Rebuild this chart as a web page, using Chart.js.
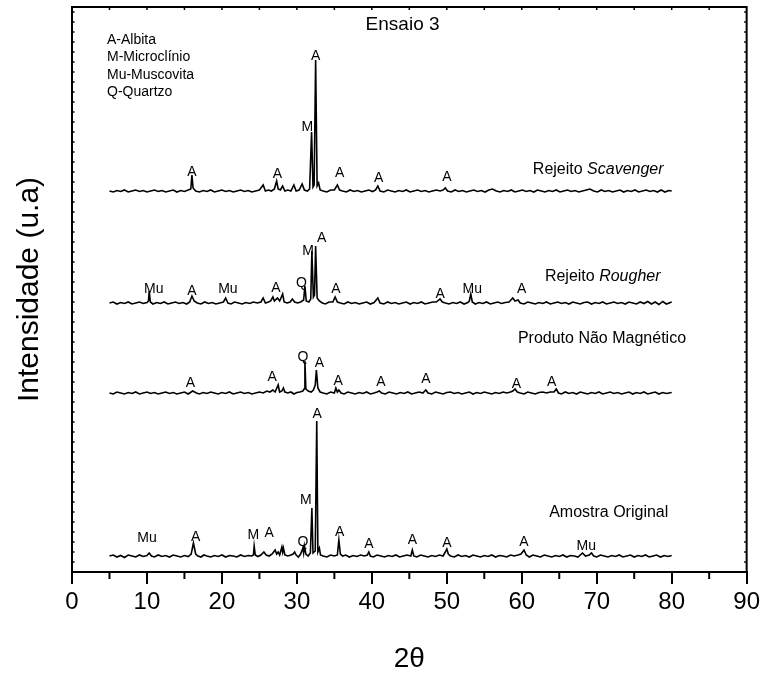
<!DOCTYPE html>
<html><head><meta charset="utf-8">
<script src="https://cdn.jsdelivr.net/npm/chart.js@4.4.0/dist/chart.umd.min.js"></script>
<style>html,body{margin:0;padding:0;background:#fff}</style>
</head><body>
<canvas id="c" width="764" height="673" style="width:764px;height:673px;display:block"></canvas>
<script>
// ---- axis ----
const xMin = 0, xMax = 90, xStep = 10;
const yMin = 0, yMax = 565;

// ---- series names & vertical offsets (stacked patterns) ----
const seriesNames = ['Amostra Original', 'Produto Não Magnético', 'Rejeito Rougher', 'Rejeito Scavenger'];
const offsets = [16, 179, 269, 381];

// ---- intensities [2θ, counts above baseline] ----
const amostra = [[5,0],[5.5,1],[6,-1],[6.5,0.5],[7,-1.5],[7.5,1],[8,0],[8.5,-1],[9,1],[9.5,-0.5],[10,0.5],[10.3,3],[10.6,0],[11,-1],[11.5,1],[12,-0.5],[12.5,0.5],[13,-1],[13.5,1],[14,0],[14.5,-1],[15,0.5],[15.5,-0.5],[15.9,2],[16.2,13],[16.5,2],[16.8,0],[17.2,-1],[17.6,1],[18,0],[18.5,-1],[19,0.5],[19.5,-0.5],[20,1],[20.5,-1],[21,0.5],[21.5,0],[22,-1],[22.5,1],[23,-0.5],[23.5,0.5],[24,0],[24.2,1],[24.3,10],[24.45,1],[24.8,-0.5],[25.2,1],[25.6,4],[25.9,1],[26.3,0],[26.7,2],[27.1,6],[27.3,2],[27.5,4],[27.7,1],[28.0,9],[28.1,4],[28.2,8],[28.4,1],[28.8,0],[29.2,1],[29.5,2],[29.7,4],[29.9,1],[30.2,-1],[30.5,2],[30.8,8],[30.9,3],[31.0,10],[31.2,2],[31.5,0],[31.8,3],[32.0,48],[32.15,3],[32.45,5],[32.65,135],[32.8,4],[33.0,8],[33.15,1],[33.5,0],[34,-1],[34.5,1],[35,0],[35.4,1],[35.6,16],[35.8,2],[36.1,0],[36.5,1],[37,-1],[37.5,0.5],[38,-0.5],[38.5,1],[39,0],[39.4,1],[39.6,4],[39.8,0],[40.2,-1],[40.7,1],[41.2,0],[41.7,-1],[42.2,0.5],[42.7,-0.5],[43.2,1],[43.7,-1],[44.2,0],[44.7,1],[45.2,0],[45.4,6],[45.6,0],[46,-1],[46.5,1],[47,0],[47.5,-1],[48,0.5],[48.5,-0.5],[49,1],[49.5,0],[49.8,4],[50.0,7],[50.2,2],[50.5,0],[51,-1],[51.5,1],[52,-0.5],[52.5,0.5],[53,-1],[53.5,1],[54,0],[54.5,-1],[55,0.5],[55.5,-0.5],[56,1],[56.5,-1],[57,0.5],[57.5,0],[58,-1],[58.5,1],[59,0],[59.5,1],[59.9,2],[60.3,6],[60.6,1],[61,-1],[61.5,1],[62,0],[62.5,-1],[63,1],[63.5,0],[64,-1],[64.5,0.5],[65,-0.5],[65.5,1],[66,-1],[66.5,0.5],[67,0],[67.5,-1],[68.1,3],[68.5,0],[69,1],[69.3,3],[69.6,0],[70,-1],[70.5,1],[71,0],[71.5,-1],[72,0.5],[72.5,-0.5],[73,1],[73.5,-1],[74,0],[74.5,1],[75,-1],[75.5,0.5],[76,-0.5],[76.5,1],[77,-1],[77.5,0],[78,1],[78.5,-1],[79,0.5],[79.5,-0.5],[80,0.5]];

const produto = [[5,0],[5.5,-1],[6,1],[6.5,0],[7,-1],[7.5,0.5],[8,-0.5],[8.5,1],[9,-1],[9.5,0],[10,1],[10.5,-0.5],[11,0.5],[11.5,-1],[12,0],[12.5,1],[13,-0.5],[13.5,0.5],[14,-1],[14.5,0],[15,1],[15.5,-1],[16.1,2],[16.6,0],[17,-1],[17.5,0.5],[18,-0.5],[18.5,1],[19,0],[19.5,-1],[20,0.5],[20.5,-0.5],[21,1],[21.5,-1],[22,0],[22.5,1],[23,-0.5],[23.5,0.5],[24,-1],[24.5,0],[25,1],[25.5,0],[26,2],[26.4,1],[26.8,3],[27.1,1],[27.5,8],[27.7,1],[28.0,2],[28.2,5],[28.4,1],[28.8,0],[29.2,1],[29.6,-1],[30,0.5],[30.4,1],[30.8,2],[30.95,4],[31.07,32],[31.2,4],[31.5,2],[31.9,1],[32.2,3],[32.45,8],[32.6,23],[32.8,5],[33.1,1],[33.5,0],[34,-1],[34.5,1],[35,0],[35.2,5],[35.4,1],[35.6,3],[35.9,0],[36.3,-1],[36.8,1],[37.3,0],[37.8,-1],[38.3,0.5],[38.8,-0.5],[39.3,1],[39.8,-1],[40.3,0],[40.7,1],[41.0,2],[41.3,0],[41.8,-1],[42.3,1],[42.8,0],[43.3,-1],[43.8,0.5],[44.3,-0.5],[44.8,1],[45.3,-1],[45.8,0],[46.3,1],[46.8,0],[47.2,3],[47.5,0],[48,-1],[48.5,1],[49,0],[49.5,-1],[50,0.5],[50.5,1],[51,-0.5],[51.5,0.5],[52,-1],[52.5,0],[53,1],[53.5,-1],[54,0.5],[54.5,-0.5],[55,1],[55.5,0],[56,-1],[56.5,0.5],[57,-0.5],[57.5,1],[58,0],[58.5,1],[58.8,2],[59.1,4],[59.4,1],[59.8,0],[60.3,-1],[60.8,1],[61.3,0],[61.8,-1],[62.3,0.5],[62.8,1],[63.3,0],[63.8,1],[64.3,1],[64.6,4],[64.9,0],[65.3,-1],[65.8,1],[66.3,-0.5],[66.8,0.5],[67.3,-1],[67.8,1],[68.3,0],[68.8,-1],[69.3,0.5],[69.8,-0.5],[70.3,1],[70.8,-1],[71.3,0],[71.8,1],[72.3,-0.5],[72.8,0.5],[73.3,-1],[73.8,0],[74.3,1],[74.8,-1],[75.3,0.5],[75.8,-0.5],[76.3,1],[76.8,-1],[77.3,0],[77.8,1],[78.3,-1],[78.8,0.5],[79.3,-0.5],[80,0.5]];

const rougher = [[5,0],[5.5,1],[6,-1],[6.5,0.5],[7,-0.5],[7.5,1],[8,-1],[8.5,0],[9,1],[9.5,-0.5],[10,0.5],[10.2,2],[10.3,12],[10.45,1],[10.8,-1],[11.3,0.5],[11.8,-0.5],[12.3,1],[12.8,-1],[13.3,0],[13.8,1],[14.3,-0.5],[14.8,0.5],[15.3,-1],[15.7,1],[16.0,7],[16.3,2],[16.7,0],[17.2,-1],[17.7,1],[18.2,-0.5],[18.7,0.5],[19.2,-1],[19.7,0],[20.2,1],[20.5,5],[20.8,0],[21.2,-1],[21.7,1],[22.2,0],[22.7,-1],[23.2,0.5],[23.7,-0.5],[24.2,1],[24.7,0],[25.2,1],[25.5,5],[25.8,0],[26.2,1],[26.5,2],[26.8,6],[27.0,2],[27.4,5],[27.7,2],[28.1,9],[28.3,1],[28.7,0],[29.1,1],[29.4,4],[29.7,1],[30.1,0],[30.5,1],[30.9,3],[31.07,17],[31.25,2],[31.6,1],[31.85,4],[32.0,52],[32.2,6],[32.35,8],[32.5,57],[32.7,5],[33.0,2],[33.4,0],[33.8,-1],[34.3,1],[34.8,1],[35.1,6],[35.4,1],[35.8,0],[36.3,-1],[36.8,1],[37.3,-0.5],[37.8,0.5],[38.3,-1],[38.8,0],[39.3,1],[39.8,-1],[40.3,0.5],[40.8,5],[41.1,0],[41.6,-1],[42.1,1],[42.6,-0.5],[43.1,0.5],[43.6,-1],[44.1,0],[44.6,1],[45.1,-1],[45.6,0.5],[46.1,-0.5],[46.6,1],[47.1,-1],[47.6,0],[48.1,1],[48.6,1],[49.1,4],[49.4,1],[49.8,0],[50.3,-1],[50.8,0.5],[51.3,-0.5],[51.8,1],[52.3,-1],[52.8,0.5],[53.0,2],[53.2,9],[53.4,1],[53.8,-1],[54.3,0.5],[54.8,-0.5],[55.3,1],[55.8,-1],[56.3,0],[56.8,1],[57.3,-0.5],[57.8,0.5],[58.3,1],[58.8,5],[59.1,2],[59.5,3],[59.8,0],[60.3,-1],[60.8,1],[61.3,0],[61.8,-1],[62.3,0.5],[62.8,-0.5],[63.3,1],[63.8,-1],[64.3,0],[64.8,1],[65.3,-0.5],[65.8,0.5],[66.3,-1],[66.8,1],[67.3,0],[67.8,-1],[68.3,0.5],[68.8,1],[69.3,-1],[69.8,0.5],[70.3,-0.5],[70.8,1],[71.3,-1],[71.8,0],[72.3,1],[72.8,-0.5],[73.3,0.5],[73.8,-1],[74.3,1],[74.8,0],[75.3,-1],[75.8,1],[76.3,-0.5],[76.8,1.5],[77.3,-1],[77.8,1],[78.3,-1.5],[78.8,1.5],[79.3,-1],[80,1]];

const scavenger = [[5,0],[5.5,-1],[6,0.5],[6.5,-0.5],[7,1],[7.5,-1],[8,0],[8.5,1],[9,-0.5],[9.5,0.5],[10,-1],[10.5,0],[11,1],[11.5,-0.5],[12,0.5],[12.5,-1],[13,0],[13.5,1],[14,-1],[14.5,0.5],[15,-0.5],[15.5,1],[15.85,2],[16.0,16],[16.15,3],[16.5,0],[17,-1],[17.5,0.5],[18,-0.5],[18.5,1],[19,-1],[19.5,0],[20,1],[20.5,-0.5],[21,0.5],[21.5,-1],[22,0],[22.5,1],[23,-0.5],[23.5,0.5],[24,-1],[24.5,0],[25,1],[25.5,6],[25.8,0],[26.2,1],[26.6,0],[27.0,2],[27.3,10],[27.5,2],[27.8,1],[28.1,5],[28.4,0],[28.8,1],[29.2,0],[29.6,6],[29.9,0],[30.3,1],[30.7,7],[31.0,1],[31.4,0],[31.7,2],[31.96,59],[32.15,4],[32.3,6],[32.5,131],[32.7,5],[32.9,8],[33.1,1],[33.5,0],[34,-1],[34.5,1],[35,1],[35.4,6],[35.7,1],[36.1,0],[36.6,-1],[37.1,1],[37.6,-0.5],[38.1,0.5],[38.6,-1],[39.1,0],[39.6,1],[40.1,-0.5],[40.5,1],[40.8,5],[41.1,0],[41.6,-1],[42.1,1],[42.6,0],[43.1,-1],[43.6,0.5],[44.1,-0.5],[44.6,1],[45.1,-1],[45.6,0],[46.1,1],[46.6,-0.5],[47.1,0.5],[47.6,-1],[48.1,0],[48.6,1],[49.1,0],[49.5,1],[49.8,3],[50.1,0],[50.6,-1],[51.1,1],[51.6,-0.5],[52.1,0.5],[52.6,-1],[53.1,0],[53.6,1],[54.1,-0.5],[54.6,0.5],[55.1,-1],[55.6,1],[56.1,2],[56.6,0],[57.1,-1],[57.6,0.5],[58.1,-0.5],[58.6,1],[59.1,-1],[59.6,0],[60.1,1],[60.6,-0.5],[61.1,0.5],[61.6,-1],[62.1,1],[62.6,0],[63.1,-1],[63.6,0.5],[64.1,-0.5],[64.6,1],[65.1,-1],[65.6,0],[66.1,1],[66.6,-0.5],[67.1,0.5],[67.6,-1],[68.1,0],[68.6,1],[69.1,2],[69.6,0],[70.1,-1],[70.6,1],[71.1,-0.5],[71.6,0.5],[72.1,-1],[72.6,0],[73.1,1],[73.6,-1],[74.1,0.5],[74.6,-0.5],[75.1,1],[75.6,-1],[76.1,0],[76.6,1],[77.1,-0.5],[77.6,0.5],[78.1,-1],[78.6,1],[79.1,-1],[79.6,0.5],[80,0]];

const seriesData = [amostra, produto, rougher, scavenger];

// ---- phase labels [text, 2θ, intensity] ----
const phaseLabels = [
  ['A',16.0,400],['A',27.4,398],['M',31.4,445],['A',32.5,516],['A',35.7,399],['A',40.9,394],['A',50.0,395],
  ['Mu',10.9,283],['A',16.0,281],['Mu',20.8,283],['A',27.2,284],['Q',30.6,289],['M',31.5,321],['A',33.3,334],['A',35.2,283],['A',49.1,278],['Mu',53.4,283],['A',60.0,283],
  ['A',15.8,189],['A',26.7,195],['Q',30.8,215],['A',33.0,209],['A',35.5,191],['A',41.2,190],['A',47.2,193],['A',59.3,188],['A',64.0,190],
  ['Mu',10.0,34],['A',16.5,35],['M',24.2,37],['A',26.3,39],['Q',30.8,30],['M',31.2,72],['A',32.7,158],['A',35.7,40],['A',39.6,28],['A',45.4,32],['A',50.0,29],['A',60.3,30],['Mu',68.6,26]
];
// ---- series captions [normal part, italic part, 2θ, intensity] ----
const captions = [
  ['Rejeito ','Scavenger',70.2,402],
  ['Rejeito ','Rougher',70.8,295],
  ['Produto Não Magnético','',70.7,233],
  ['Amostra Original','',71.6,59]
];
const keyLines = ['A-Albita','M-Microclínio','Mu-Muscovita','Q-Quartzo'];
const keyPos = [[4.67,532],[4.67,514.5],[4.67,497],[4.67,479.5]];
const chartTitle = ['Ensaio 3', 44.1, 547];

const FONT = "'Liberation Sans', Arial, sans-serif";

const deco = {
  id: 'deco',
  afterDraw(chart) {
    const {ctx, chartArea: a, scales: {x, y}} = chart;
    ctx.save();
    ctx.strokeStyle = '#000';
    ctx.lineWidth = 2;
    ctx.beginPath();
    ctx.moveTo(a.left, a.top); ctx.lineTo(a.right, a.top); ctx.lineTo(a.right, a.bottom);
    for (let v = xMin + xStep / 2; v < xMax; v += xStep) {
      const px = x.getPixelForValue(v);
      ctx.moveTo(px, a.bottom); ctx.lineTo(px, a.bottom + 7);
    }
    ctx.stroke();
    ctx.lineWidth = 1.5;
    ctx.beginPath();
    for (let v = xMin + xStep / 2; v < xMax; v += xStep / 2) {
      const px = x.getPixelForValue(v);
      ctx.moveTo(px, a.top); ctx.lineTo(px, a.top + 3);
    }
    for (let v = 10; v < yMax; v += 10) {
      const py = y.getPixelForValue(v);
      ctx.moveTo(a.left, py); ctx.lineTo(a.left + 2.5, py);
      ctx.moveTo(a.right, py); ctx.lineTo(a.right - 2.5, py);
    }
    ctx.stroke();

    ctx.fillStyle = '#000';
    ctx.textBaseline = 'middle';
    ctx.textAlign = 'center';
    ctx.font = '14px ' + FONT;
    phaseLabels.forEach(([t, vx, vy]) => ctx.fillText(t, x.getPixelForValue(vx), y.getPixelForValue(vy)));

    captions.forEach(([n, it, vx, vy]) => {
      ctx.font = '16px ' + FONT;
      const w1 = ctx.measureText(n).width;
      ctx.font = 'italic 16px ' + FONT;
      const w2 = it ? ctx.measureText(it).width : 0;
      const cx = x.getPixelForValue(vx), cy = y.getPixelForValue(vy);
      const sx = cx - (w1 + w2) / 2;
      ctx.textAlign = 'left';
      ctx.font = '16px ' + FONT;
      ctx.fillText(n, sx, cy);
      if (it) { ctx.font = 'italic 16px ' + FONT; ctx.fillText(it, sx + w1, cy); }
    });

    ctx.textAlign = 'left';
    ctx.font = '14px ' + FONT;
    keyLines.forEach((t, i) => ctx.fillText(t, x.getPixelForValue(keyPos[i][0]), y.getPixelForValue(keyPos[i][1])));

    ctx.textAlign = 'center';
    ctx.font = '19px ' + FONT;
    ctx.fillText(chartTitle[0], x.getPixelForValue(chartTitle[1]), y.getPixelForValue(chartTitle[2]));
    ctx.restore();
  }
};

const datasets = seriesNames.map((name, i) => ({
  label: name,
  data: seriesData[i].map(p => ({x: p[0], y: p[1] + offsets[i]})),
  showLine: true,
  borderColor: '#000',
  borderWidth: 1.6,
  pointRadius: 0,
  tension: 0
}));

new Chart(document.getElementById('c'), {
  type: 'scatter',
  data: { datasets },
  options: {
    responsive: false,
    animation: false,
    events: [],
    layout: { padding: { top: 7, right: 17, left: 0, bottom: 0 } },
    plugins: { legend: { display: false }, tooltip: { enabled: false } },
    scales: {
      x: {
        type: 'linear', min: xMin, max: xMax,
        afterFit(s) { s.height = 101; },
        ticks: { stepSize: xStep, color: '#000', font: { family: FONT, size: 24 }, padding: 4, maxRotation: 0 },
        grid: { display: true, drawOnChartArea: false, drawTicks: true, tickLength: 12, color: '#000', lineWidth: 2 },
        border: { display: true, color: '#000', width: 2 },
        title: { display: true, text: '2θ', color: '#000', font: { family: FONT, size: 28, lineHeight: 1 }, padding: { top: 0, bottom: 0 } }
      },
      y: {
        type: 'linear', min: yMin, max: yMax,
        afterFit(s) { s.width = 72; },
        ticks: { display: false },
        grid: { display: false },
        border: { display: true, color: '#000', width: 2 },
        title: { display: true, text: 'Intensidade (u.a)', color: '#000', font: { family: FONT, size: 30, lineHeight: 1 }, padding: { top: 15, bottom: 0 } }
      }
    }
  },
  plugins: [deco]
});
</script>
</body></html>
